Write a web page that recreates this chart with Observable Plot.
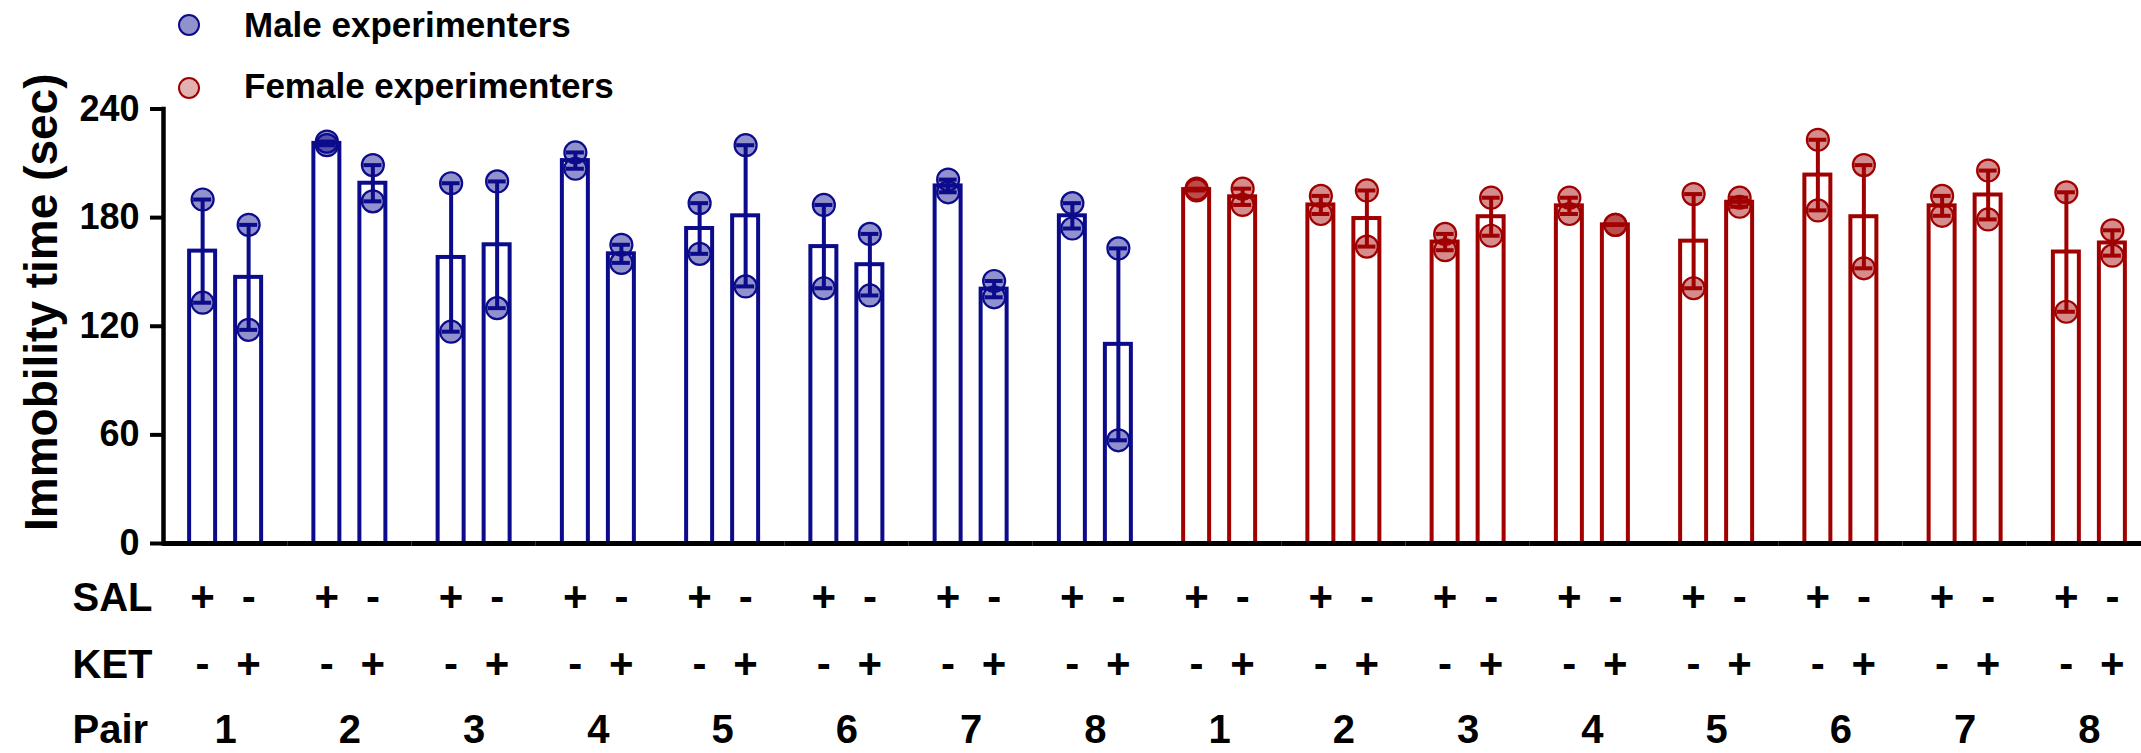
<!DOCTYPE html>
<html>
<head>
<meta charset="utf-8">
<script src="https://cdn.jsdelivr.net/npm/d3@7"></script>
<script src="https://cdn.jsdelivr.net/npm/@observablehq/plot@0.6"></script>
<style>
  html, body { margin: 0; padding: 0; background: white; overflow: hidden; }
  #wrap { position: relative; width: 2141px; height: 753px; font-family: "Liberation Sans", Arial, sans-serif; font-weight: bold; }
  #chart { position: absolute; left: 0; top: 0; }
  .lg-dot { position: absolute; width: 18px; height: 18px; border-radius: 50%; border: 2px solid; }
  .lg-text { position: absolute; font-size: 35px; line-height: 35px; white-space: nowrap; color: #000; }
</style>
</head>
<body>
<div id="wrap"><div id="chart"></div></div>
<script>
// ---- data ----
const pairLabels = ["1", "2", "3", "4", "5", "6", "7", "8"];
const groups = ["Male", "Female"];
const legendLabels = ["Male experimenters", "Female experimenters"];
const treatments = ["SAL", "KET"];
const rowLabels = ["SAL", "KET", "Pair"];
const yTicks = [0, 60, 120, 180, 240];
const yLabel = "Immobility time (sec)";

// two animals per bar (immobility time, sec), pairs 1..8
const maleSAL   = [[190, 133], [222, 220], [199, 117], [216, 207], [188, 160], [187, 141], [201, 194], [188, 174]];
const maleKET   = [[176, 118], [209, 189], [200, 130], [165, 155], [220, 142], [171, 137], [145, 136], [163, 57]];
const femaleSAL = [[196, 195], [192, 182], [171, 162], [191, 182], [193, 141], [223, 184], [192, 181], [194, 128]];
const femaleKET = [[196, 187], [195, 164], [191, 170], [176, 176], [191, 186], [209, 152], [206, 179], [173, 159]];

// ---- build table ----
const series = [
  ["Male", "SAL", maleSAL], ["Male", "KET", maleKET],
  ["Female", "SAL", femaleSAL], ["Female", "KET", femaleKET]
];
const rows = series.flatMap(([sex, treat, vals]) =>
  vals.flatMap((pts, i) => pts.map(v => ({sex, treat, pair: pairLabels[i], key: sex[0] + pairLabels[i], value: v}))));
const pairKeys = groups.flatMap(s => pairLabels.map(p => s[0] + p));
const cells = pairKeys.flatMap(k => treatments.map(t => ({key: k, treat: t})));

const navy = "#0b0b8b";
const darkRed = "#a00000";

const common = {fx: "key", x: "treat", stroke: "sex"};
const rowDy = [67, 134, 199];

const chart = Plot.plot({
  width: 2141,
  height: 753,
  marginLeft: 163,
  marginRight: 0,
  marginTop: 108.5,
  marginBottom: 210,
  fx: {domain: pairKeys, range: [163, 2151], padding: 0, round: false, axis: null},
  x: {domain: treatments, paddingInner: 0.435, paddingOuter: 0.568, round: false, axis: null},
  y: {domain: [0, 240], axis: null},
  color: {domain: groups, range: [navy, darkRed]},
  style: {fontFamily: "'Liberation Sans', Arial, sans-serif", fontWeight: "bold", background: "white", color: "black"},
  marks: [
    Plot.barY(rows, Plot.groupX({y: "mean"}, {...common, y: "value", fill: "white", strokeWidth: 4})),
    Plot.dot(rows, {...common, y: "value", r: 11, fill: "sex", fillOpacity: 0.45, strokeWidth: 2.2}),
    Plot.ruleX(rows, Plot.groupX({y1: "min", y2: "max"}, {...common, y1: "value", y2: "value", strokeWidth: 4})),
    Plot.tickY(rows, Plot.groupX({y: "max"}, {...common, y: "value", strokeWidth: 4, insetLeft: 4, insetRight: 4})),
    Plot.tickY(rows, Plot.groupX({y: "min"}, {...common, y: "value", strokeWidth: 4, insetLeft: 4, insetRight: 4})),
    Plot.ruleY([0], {stroke: "black", strokeWidth: 5}),
    Plot.frame({anchor: "left", facetAnchor: "left", stroke: "black", strokeWidth: 4.5}),
    Plot.axisY({ticks: yTicks, tickSize: 13, tickPadding: 11, fontSize: 36, strokeWidth: 4, label: null}),
    // y label
    Plot.text([yLabel], {fx: [pairKeys[0]], text: d => d, frameAnchor: "left", textAnchor: "middle", rotate: -90, dx: -121, dy: -24, fontSize: 46, fill: "black"}),
    // +/- rows
    Plot.text(cells, {fx: "key", x: "treat", text: d => d.treat === "SAL" ? "+" : "-", frameAnchor: "bottom", dy: rowDy[0], fontSize: 42, fill: "black"}),
    Plot.text(cells, {fx: "key", x: "treat", text: d => d.treat === "KET" ? "+" : "-", frameAnchor: "bottom", dy: rowDy[1], fontSize: 42, fill: "black"}),
    // pair numbers
    Plot.text(pairKeys, {fx: d => d, text: d => d.slice(1), frameAnchor: "bottom", dy: rowDy[2], fontSize: 40, fill: "black"}),
    // row labels
    ...rowLabels.map((lab, i) => Plot.text([lab], {fx: [pairKeys[0]], text: d => d, frameAnchor: "bottom-left", textAnchor: "start", dx: -91, dy: rowDy[i], fontSize: 40, fill: "black"}))
  ]
});
document.getElementById("chart").appendChild(chart);

// ---- legend (HTML overlay) ----
const wrap = document.getElementById("wrap");
const legendFill = ["rgba(11,11,139,0.45)", "rgba(160,0,0,0.3)"];
const legendStroke = [navy, darkRed];
legendLabels.forEach((lab, i) => {
  const dot = document.createElement("div");
  dot.className = "lg-dot";
  dot.style.left = "178px";
  dot.style.top = (14 + i * 63) + "px";
  dot.style.borderColor = legendStroke[i];
  dot.style.background = legendFill[i];
  wrap.appendChild(dot);
  const t = document.createElement("div");
  t.className = "lg-text";
  t.style.left = "244px";
  t.style.top = (7 + i * 61) + "px";
  t.textContent = lab;
  wrap.appendChild(t);
});
</script>
</body>
</html>
